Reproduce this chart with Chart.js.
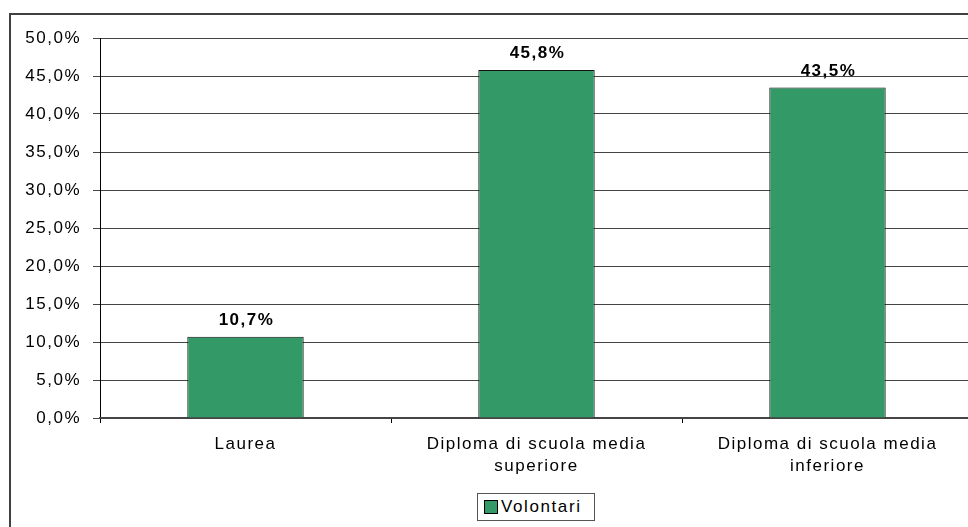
<!DOCTYPE html>
<html lang="it">
<head>
<meta charset="UTF-8">
<title>Volontari per titolo di studio</title>
<script src="https://cdn.jsdelivr.net/npm/chart.js"></script>
<style>
    html, body { margin: 0; padding: 0; background: #fff; overflow: hidden; }
    body { width: 968px; height: 527px; position: relative; font-family: "Liberation Sans", Arial, sans-serif; }
    #cornice { position: absolute; left: 9px; top: 13px; width: 2000px; height: 2000px; border: 2px solid #404040; }
    #grafico { position: absolute; left: 0; top: 0; }
    #legenda { position: absolute; left: 477px; top: 493px; width: 116px; height: 26px; border: 1px solid #555;
               background: #fff; display: flex; align-items: center; font-size: 17px; letter-spacing: 1.6px; color: #000;
               white-space: nowrap; overflow: hidden; }
    #legenda span.box { display: inline-block; width: 12px; height: 12px; border: 1px solid #000; margin: 0 3px 0 6px; }
</style>
</head>
<body>
    <div id="cornice"></div>
    <canvas id="grafico" width="1000" height="527"></canvas>
    <div id="legenda"></div>

<script>
    var categorie = ['Laurea', ['Diploma di scuola media', 'superiore'], ['Diploma di scuola media', 'inferiore']];
    var volontari = [10.7, 45.8, 43.5];
    var nomeSerie = 'Volontari';
    var coloreBarre = '#339966';
    var carattere = '"Liberation Sans", Arial, sans-serif';

    function formatta(v, dec) {
        return v.toFixed(dec).replace('.', ',') + '%';
    }

    // spaziatura tra le lettere come nel foglio originale
    var spaziatura = {
        id: 'spaziatura',
        beforeDraw: function (chart) {
            chart.ctx.letterSpacing = '1.5px';
        }
    };

    // etichette dei valori sopra le barre
    var etichette = {
        id: 'etichette',
        afterDatasetsDraw: function (chart) {
            var ctx = chart.ctx;
            var meta = chart.getDatasetMeta(0);
            ctx.save();
            ctx.font = 'bold 17px ' + carattere;
            ctx.fillStyle = '#000';
            ctx.textAlign = 'center';
            ctx.textBaseline = 'middle';
            meta.data.forEach(function (bar, i) {
                ctx.fillText(formatta(volontari[i], 1), bar.x + 1, bar.y - 16.5);
            });
            ctx.restore();
        }
    };

    var config = {
        type: 'bar',
        data: {
            labels: categorie,
            datasets: [{
                label: nomeSerie,
                data: volontari,
                backgroundColor: coloreBarre,
                borderColor: '#111',
                borderWidth: 1,
                barPercentage: 0.4,
                categoryPercentage: 1
            }]
        },
        options: {
            responsive: false,
            animation: false,
            layout: { padding: { left: 0, right: 27, top: 38, bottom: 0 } },
            plugins: {
                legend: { display: false },
                tooltip: { enabled: false }
            },
            scales: {
                y: {
                    min: 0,
                    max: 50,
                    ticks: {
                        stepSize: 5,
                        padding: 12,
                        color: '#000',
                        font: { family: carattere, size: 17 },
                        callback: function (v) { return formatta(v, 1); }
                    },
                    grid: { color: '#444', tickLength: 7, lineWidth: 1 },
                    border: { color: '#000', width: 1 },
                    afterFit: function (s) { s.width = 100; }
                },
                x: {
                    ticks: {
                        padding: 10,
                        color: '#000',
                        maxRotation: 0,
                        autoSkip: false,
                        font: { family: carattere, size: 17, lineHeight: 1.32 }
                    },
                    grid: { drawOnChartArea: false, color: '#000', tickLength: 5, offset: true },
                    border: { color: '#444', width: 2 },
                    afterFit: function (s) { s.height = 109; }
                }
            }
        },
        plugins: [spaziatura, etichette]
    };

    new Chart(document.getElementById('grafico'), config);

    var legenda = document.getElementById('legenda');
    legenda.innerHTML = '<span class="box" style="background:' + coloreBarre + '"></span>' + nomeSerie;
</script>
</body>
</html>
